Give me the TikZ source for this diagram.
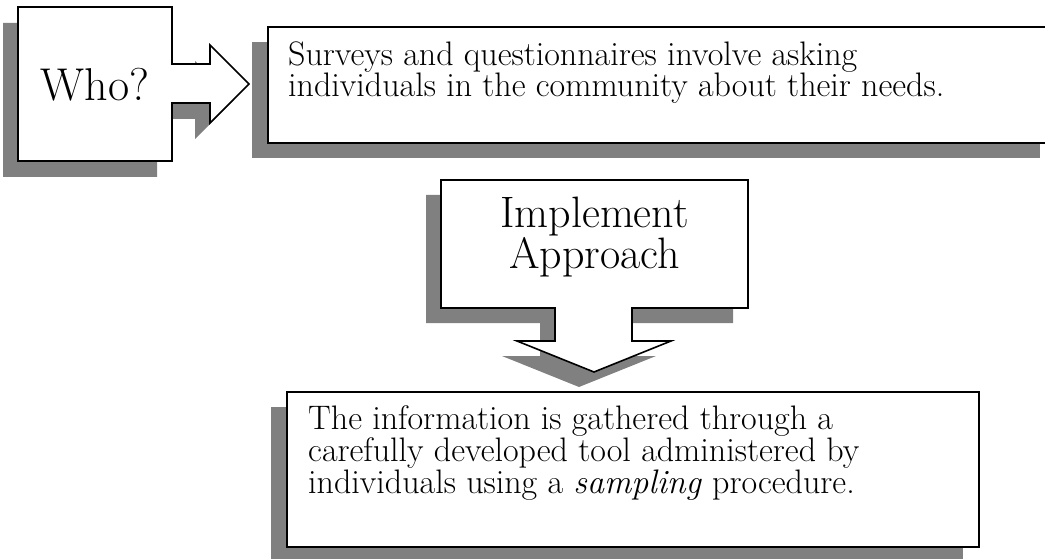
\documentclass[tikz,border=0pt]{standalone}
\tikzset{
  shapeline/.style={draw=black, line width=1.6pt, fill=white, line join=miter},
  shadowfill/.style={fill=black!50, draw=none},
  bodytext/.style={inner sep=0pt, anchor=base west, align=left,
    font=\fontsize{34}{30.3}\selectfont},
  headtext/.style={inner sep=0pt, anchor=base, align=center,
    font=\fontsize{44}{39.2}\selectfont}
}
\begin{document}
\begin{tikzpicture}[x=1pt,y=-1pt]
  \useasboundingbox (0,0) rectangle (1045,559);
  \clip (0,0) rectangle (1045,559);

  \def\whoshape{(18,7) -- (172,7) -- (172,64) -- (210,64) -- (210,45) -- (249,84)
    -- (210,123) -- (210,103) -- (172,103) -- (172,161) -- (18,161) -- cycle}
  \def\implshape{(441,180) -- (748,180) -- (748,308) -- (632,308) -- (632,341)
    -- (671,341) -- (594,372) -- (517,341) -- (555,341) -- (555,308) -- (441,308) -- cycle}

  \fill[shadowfill, shift={(-15,16)}] \whoshape;
  \fill[shadowfill, shift={(-16,15)}] (268,27) rectangle (1056,143);
  \fill[shadowfill, shift={(-15,15)}] \implshape;
  \fill[shadowfill, shift={(-16,15)}] (287,392) rectangle (979,547);

  \draw[shapeline] \whoshape;
  \draw[shapeline] (268,27) rectangle (1056,143);
  \draw[shapeline] \implshape;
  \draw[shapeline] (287,392) rectangle (979,547);

  \node[headtext, font=\fontsize{46}{46}\selectfont] (who) at (95,101) {Who?};
  \node[bodytext] (surveys) at (288,97) {Surveys and questionnaires involve asking\\
    individuals in the community about their needs.};
  \node[headtext] (implement) at (594.5,268) {Implement\\Approach};
  \node[bodytext] (info) at (308,493) {The information is gathered through a\\
    carefully developed tool administered by\\
    individuals using a \emph{sampling} procedure.};
\end{tikzpicture}
\end{document}
